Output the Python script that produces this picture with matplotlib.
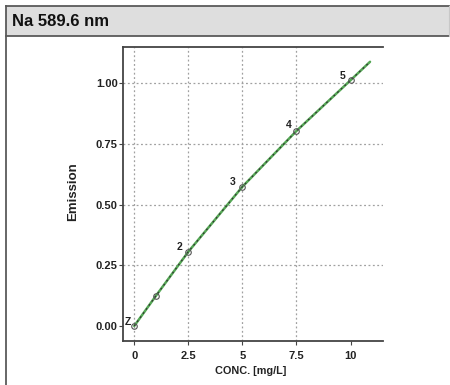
import matplotlib
matplotlib.use("Agg")
import matplotlib.pyplot as plt
from matplotlib.patches import Rectangle
from matplotlib.lines import Line2D

plt.rcParams['font.family'] = ['Liberation Sans', 'DejaVu Sans']

# Data
std_labels = ["Z", "1", "2", "3", "4", "5"]
std_conc = [0.0, 1.0, 2.5, 5.0, 7.5, 10.0]
std_emission = [0.0, 0.124, 0.306, 0.574, 0.804, 1.013]
curve_conc = [0.0, 1.0, 2.5, 5.0, 7.5, 10.0, 10.9]
curve_emission = [0.0, 0.124, 0.306, 0.574, 0.804, 1.013, 1.089]
xticks = [0, 2.5, 5, 7.5, 10]
xtick_labels = ["0", "2.5", "5", "7.5", "10"]
yticks = [0.0, 0.25, 0.5, 0.75, 1.0]
ytick_labels = ["0.00", "0.25", "0.50", "0.75", "1.00"]
title = "Na 589.6 nm"

W, H = 450, 385
fig = plt.figure(figsize=(W/100, H/100), dpi=100)

# Header panel and frame
fig.patches.append(Rectangle((6/W, 1-36/H), (449-6)/W, 30/H, transform=fig.transFigure,
                             facecolor='#dedede', edgecolor='none', zorder=0))
fig.lines.append(Line2D([6/W, 449/W], [1-6/H, 1-6/H], transform=fig.transFigure, color='#5a5a5a', lw=1.3))
fig.lines.append(Line2D([6/W, 449/W], [1-36/H, 1-36/H], transform=fig.transFigure, color='#5a5a5a', lw=1.3))
fig.lines.append(Line2D([449/W, 449/W], [1-36/H, 1-6/H], transform=fig.transFigure, color='#c8c8c8', lw=0.8))
fig.lines.append(Line2D([6/W, 6/W], [0, 1-6/H], transform=fig.transFigure, color='#5a5a5a', lw=1.3))
fig.text(12/W, 1-21/H, title, fontsize=12, fontweight='bold', va='center', ha='left', color='#111111')

ax = fig.add_axes([123/W, 1-341/H, (383-123)/W, (341-47)/H])
ax.set_xlim(-0.52, 11.5)
ax.set_ylim(-0.062, 1.15)

for s in ['left', 'top', 'bottom']:
    ax.spines[s].set_color('#444444')
    ax.spines[s].set_linewidth(1.3)
ax.spines['right'].set_visible(False)

# grid lines
for xv in xticks[:-1]:
    ax.axvline(xv, color='#a0a0a0', lw=0.9, ls=(0, (1.5, 2)), zorder=1)
for yv in yticks[1:]:
    ax.axhline(yv, color='#a0a0a0', lw=0.9, ls=(0, (1.5, 2)), zorder=1)

ax.plot(curve_conc, curve_emission, color='#55a855', lw=1.8, zorder=3, solid_capstyle='round')
ax.plot(curve_conc, curve_emission, color='#333333', lw=0.9, ls=(0, (1.5, 2.5)), zorder=4)
ax.plot(std_conc, std_emission, ls='none', marker='o', ms=4, mfc='none', mec='#555555', mew=0.8, zorder=5)

offsets = {"Z": (-4.3, 3.0), "2": (-6.2, 3.6), "3": (-6.8, 3.6), "4": (-5.5, 4.1), "5": (-5.5, 3.1)}
for lab, xv, yv in zip(std_labels, std_conc, std_emission):
    if lab in offsets:
        ax.annotate(lab, (xv, yv), xytext=offsets[lab], textcoords='offset points',
                    ha='center', va='center', fontsize=7.5, fontweight='bold', color='#222222', zorder=6)

ax.set_xticks(xticks)
ax.set_xticklabels(xtick_labels)
ax.set_yticks(yticks)
ax.set_yticklabels(ytick_labels)
ax.tick_params(axis='both', labelsize=8, length=3, width=0.8, color='#444444')
ax.tick_params(axis='y', pad=0.8)
ax.tick_params(axis='x', pad=4)
for t in ax.get_xticklabels() + ax.get_yticklabels():
    t.set_fontweight('bold')
    t.set_color('#222222')

fig.text(251/W, 1-371/H, "CONC. [mg/L]", fontsize=7.8, fontweight='bold', ha='center', va='center', color='#222222')
fig.text(73/W, 1-192/H, "Emission", fontsize=9.5, fontweight='bold', ha='center', va='center', rotation=90, color='#222222')

fig.savefig("out.png", dpi=100)
